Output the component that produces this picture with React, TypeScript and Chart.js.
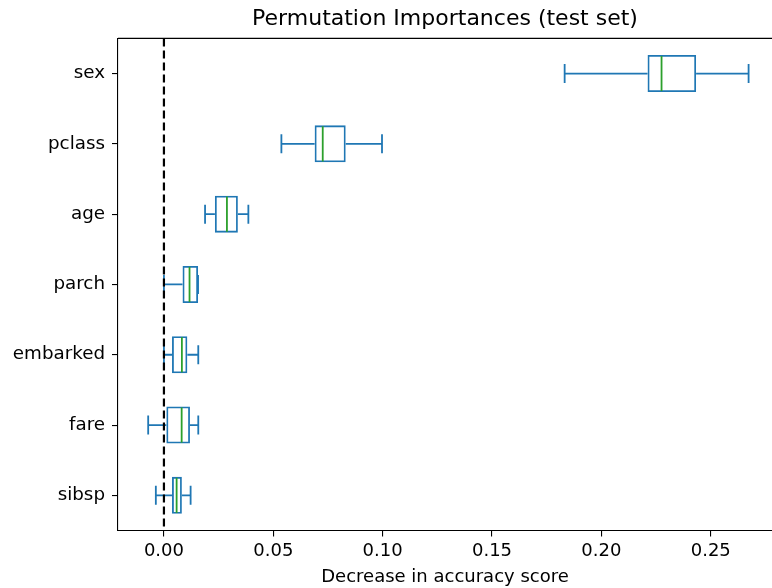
import React, { useEffect, useRef } from "react";
import { Chart, registerables } from "chart.js";

Chart.register(...registerables);

// ---- Data ----
const FEATURES = ["sex", "pclass", "age", "parch", "embarked", "fare", "sibsp"];
const WHISKER_LOW = [0.1832, 0.0537, 0.0188, 0.0, 0.0, -0.0072, -0.0037];
const Q1 = [0.2211, 0.0689, 0.0233, 0.0085, 0.0037, 0.0011, 0.0037];
const MEDIAN = [0.2275, 0.0726, 0.0288, 0.0117, 0.0082, 0.0081, 0.0058];
const Q3 = [0.2433, 0.0831, 0.0338, 0.0156, 0.0107, 0.0119, 0.0082];
const WHISKER_HIGH = [0.2673, 0.0997, 0.0386, 0.0156, 0.0157, 0.0157, 0.0122];
const X_TICKS = [0, 0.05, 0.1, 0.15, 0.2, 0.25];

const TITLE = "Permutation Importances (test set)";
const X_TITLE = "Decrease in accuracy score";

const BLUE = "#1f77b4";
const GREEN = "#2ca02c";
const FONT = "'DejaVu Sans', sans-serif";

const boxPlugin = {
  id: "boxWhiskers",
  afterDatasetsDraw(chart: any) {
    const { ctx, chartArea } = chart;
    const x = chart.scales.x;
    const y = chart.scales.y;
    const unit = Math.abs(y.getPixelForValue(1) - y.getPixelForValue(0));
    const capHalf = unit * 0.135;
    const boxHalf = unit * 0.25;
    ctx.save();
    ctx.lineCap = "butt";
    FEATURES.forEach((_, i) => {
      const yc = y.getPixelForValue(i);
      const xl = x.getPixelForValue(WHISKER_LOW[i]);
      const xq1 = x.getPixelForValue(Q1[i]);
      const xq3 = x.getPixelForValue(Q3[i]);
      const xh = x.getPixelForValue(WHISKER_HIGH[i]);
      const xm = x.getPixelForValue(MEDIAN[i]);
      ctx.strokeStyle = BLUE;
      ctx.lineWidth = 1.8;
      ctx.beginPath();
      ctx.moveTo(xl, yc);
      ctx.lineTo(xq1, yc);
      ctx.moveTo(xq3, yc);
      ctx.lineTo(xh, yc);
      ctx.moveTo(xl, yc - capHalf);
      ctx.lineTo(xl, yc + capHalf);
      ctx.moveTo(xh, yc - capHalf);
      ctx.lineTo(xh, yc + capHalf);
      ctx.stroke();
      ctx.strokeStyle = GREEN;
      ctx.beginPath();
      ctx.moveTo(xm, yc - boxHalf);
      ctx.lineTo(xm, yc + boxHalf);
      ctx.stroke();
    });
    // dashed zero line
    const x0 = x.getPixelForValue(0);
    ctx.strokeStyle = "#000";
    ctx.lineWidth = 2.2;
    ctx.setLineDash([8, 4]);
    ctx.beginPath();
    ctx.moveTo(x0, chartArea.top);
    ctx.lineTo(x0, chartArea.bottom);
    ctx.stroke();
    ctx.setLineDash([]);
    // top spine
    ctx.lineWidth = 1.1;
    ctx.beginPath();
    ctx.moveTo(chartArea.left, chartArea.top);
    ctx.lineTo(chartArea.right, chartArea.top);
    ctx.stroke();
    ctx.restore();
  },
};

export default function App() {
  const canvasRef = useRef<HTMLCanvasElement | null>(null);

  useEffect(() => {
    if (!canvasRef.current) return;
    const chart = new Chart(canvasRef.current, {
      type: "bar",
      data: {
        labels: FEATURES,
        datasets: [
          {
            data: FEATURES.map((_, i) => [Q1[i], Q3[i]]) as any,
            borderColor: BLUE,
            backgroundColor: "rgba(0,0,0,0)",
            borderWidth: 1.8,
            borderSkipped: false,
            barPercentage: 0.526,
            categoryPercentage: 1,
          },
        ],
      },
      options: {
        indexAxis: "y",
        animation: false,
        responsive: false,
        devicePixelRatio: 1,
        layout: { padding: 0 },
        plugins: {
          legend: { display: false },
          tooltip: { enabled: false },
          title: {
            display: true,
            text: TITLE,
            fullSize: false,
            color: "#000",
            font: { family: FONT, size: 22, weight: "normal" },
            padding: { top: 6, bottom: 6 },
          },
        },
        scales: {
          x: {
            type: "linear",
            position: "bottom",
            min: -0.021,
            max: 0.278,
            afterBuildTicks: (s: any) => {
              s.ticks = X_TICKS.map((v) => ({ value: v }));
            },
            afterFit: (s: any) => {
              s.height = 57.5;
            },
            ticks: {
              callback: (v: any) => Number(v).toFixed(2),
              color: "#000",
              font: { family: FONT, size: 18 },
              padding: 4,
              maxRotation: 0,
            },
            grid: {
              display: true,
              drawOnChartArea: false,
              drawTicks: true,
              tickLength: 6,
              color: "#000",
              lineWidth: 1.1,
            },
            border: { display: true, color: "#000", width: 1.1 },
            title: {
              display: true,
              text: X_TITLE,
              color: "#000",
              font: { family: FONT, size: 18 },
              padding: 0,
            },
          },
          y: {
            type: "category",
            afterFit: (s: any) => {
              s.width = 118;
            },
            ticks: {
              color: "#000",
              font: { family: FONT, size: 18.3 },
              padding: 7,
            },
            grid: {
              display: true,
              offset: false,
              drawOnChartArea: false,
              drawTicks: true,
              tickLength: 6,
              color: "#000",
              lineWidth: 1.1,
            },
            border: { display: true, color: "#000", width: 1.1 },
          },
        },
      } as any,
      plugins: [boxPlugin],
    });
    return () => chart.destroy();
  }, []);

  return (
    <div style={{ position: "absolute", left: 0, top: 0, width: 772, height: 588, background: "#fff" }}>
      <canvas ref={canvasRef} width={772} height={588} style={{ display: "block" }} />
    </div>
  );
}
